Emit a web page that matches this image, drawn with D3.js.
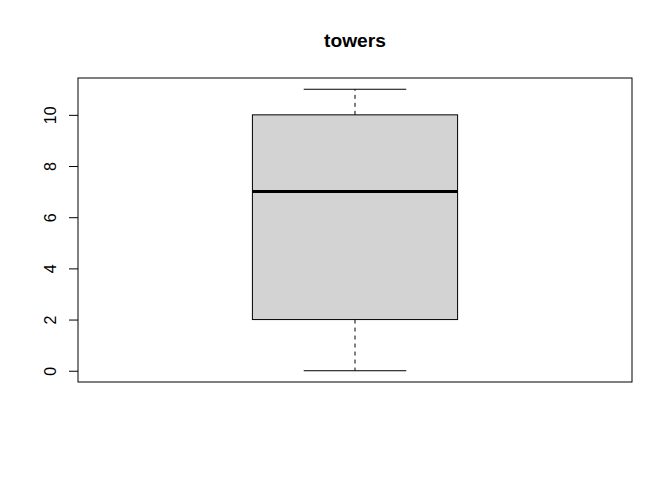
<!DOCTYPE html>
<html>
<head>
<meta charset="utf-8">
<script src="https://cdn.jsdelivr.net/npm/d3@7"></script>
<style>
  body { margin: 0; background: #fff; }
  text { font-family: "Liberation Sans", Arial, sans-serif; }
</style>
</head>
<body>
<svg id="chart" width="672" height="480"></svg>
<script>
// box stats
var groups = ['towers'];
var mins = [0];
var q1s = [2];
var medians = [7];
var q3s = [10];
var maxs = [11];
var yTicks = [0, 2, 4, 6, 8, 10];

var svg = d3.select('#chart');
// plot region (window.top is read-only, so don't use "top")
var plotL = 78, plotR = 632, plotT = 78, plotB = 382;

var x = d3.scaleLinear().domain([0.46, 1.54]).range([plotL, plotR]);
var y = d3.scaleLinear().domain([-0.44, 11.44]).range([plotB, plotT]);

// title
svg.append('text')
	.attr('x', (plotL + plotR) / 2)
	.attr('y', 47)
	.attr('text-anchor', 'middle')
	.attr('font-size', '19.2px')
	.attr('font-weight', 'bold')
	.text(groups[0]);

var stats = groups.map(function(g, i) {
	return { pos: i + 1, min: mins[i], q1: q1s[i], med: medians[i], q3: q3s[i], max: maxs[i] };
});

var box = svg.selectAll('g.box').data(stats).enter().append('g').attr('class', 'box');

// whiskers (dashed)
box.append('line')
	.attr('x1', function(d) { return x(d.pos); })
	.attr('x2', function(d) { return x(d.pos); })
	.attr('y1', function(d) { return y(d.q3); })
	.attr('y2', function(d) { return y(d.max); })
	.attr('stroke', '#000').attr('stroke-dasharray', '4,4');
box.append('line')
	.attr('x1', function(d) { return x(d.pos); })
	.attr('x2', function(d) { return x(d.pos); })
	.attr('y1', function(d) { return y(d.q1); })
	.attr('y2', function(d) { return y(d.min); })
	.attr('stroke', '#000').attr('stroke-dasharray', '4,4');

// staples
['min', 'max'].forEach(function(k) {
	box.append('line')
		.attr('x1', function(d) { return x(d.pos - 0.1); })
		.attr('x2', function(d) { return x(d.pos + 0.1); })
		.attr('y1', function(d) { return y(d[k]); })
		.attr('y2', function(d) { return y(d[k]); })
		.attr('stroke', '#000');
});

// box
box.append('rect')
	.attr('x', function(d) { return x(d.pos - 0.2); })
	.attr('width', function(d) { return x(d.pos + 0.2) - x(d.pos - 0.2); })
	.attr('y', function(d) { return y(d.q3); })
	.attr('height', function(d) { return y(d.q1) - y(d.q3); })
	.attr('fill', '#d3d3d3')
	.attr('stroke', '#000');

// median
box.append('line')
	.attr('x1', function(d) { return x(d.pos - 0.2); })
	.attr('x2', function(d) { return x(d.pos + 0.2); })
	.attr('y1', function(d) { return y(d.med); })
	.attr('y2', function(d) { return y(d.med); })
	.attr('stroke', '#000').attr('stroke-width', 3);

// y axis, R style
var yAxis = svg.append('g')
	.attr('transform', 'translate(' + plotL + ',0)')
	.call(d3.axisLeft(y).tickValues(yTicks).tickSize(9).tickPadding(0));
yAxis.select('.domain').remove();
yAxis.selectAll('.tick line').attr('stroke', '#000');
yAxis.selectAll('.tick text')
	.attr('font-size', '16px')
	.attr('fill', '#000')
	.attr('text-anchor', 'middle')
	.attr('dy', null)
	.attr('x', null)
	.attr('transform', 'translate(-28,0) rotate(-90)')
	.attr('dominant-baseline', 'central');

// plot frame
svg.append('rect')
	.attr('x', plotL).attr('y', plotT)
	.attr('width', plotR - plotL).attr('height', plotB - plotT)
	.attr('fill', 'none').attr('stroke', '#000');
</script>
</body>
</html>
